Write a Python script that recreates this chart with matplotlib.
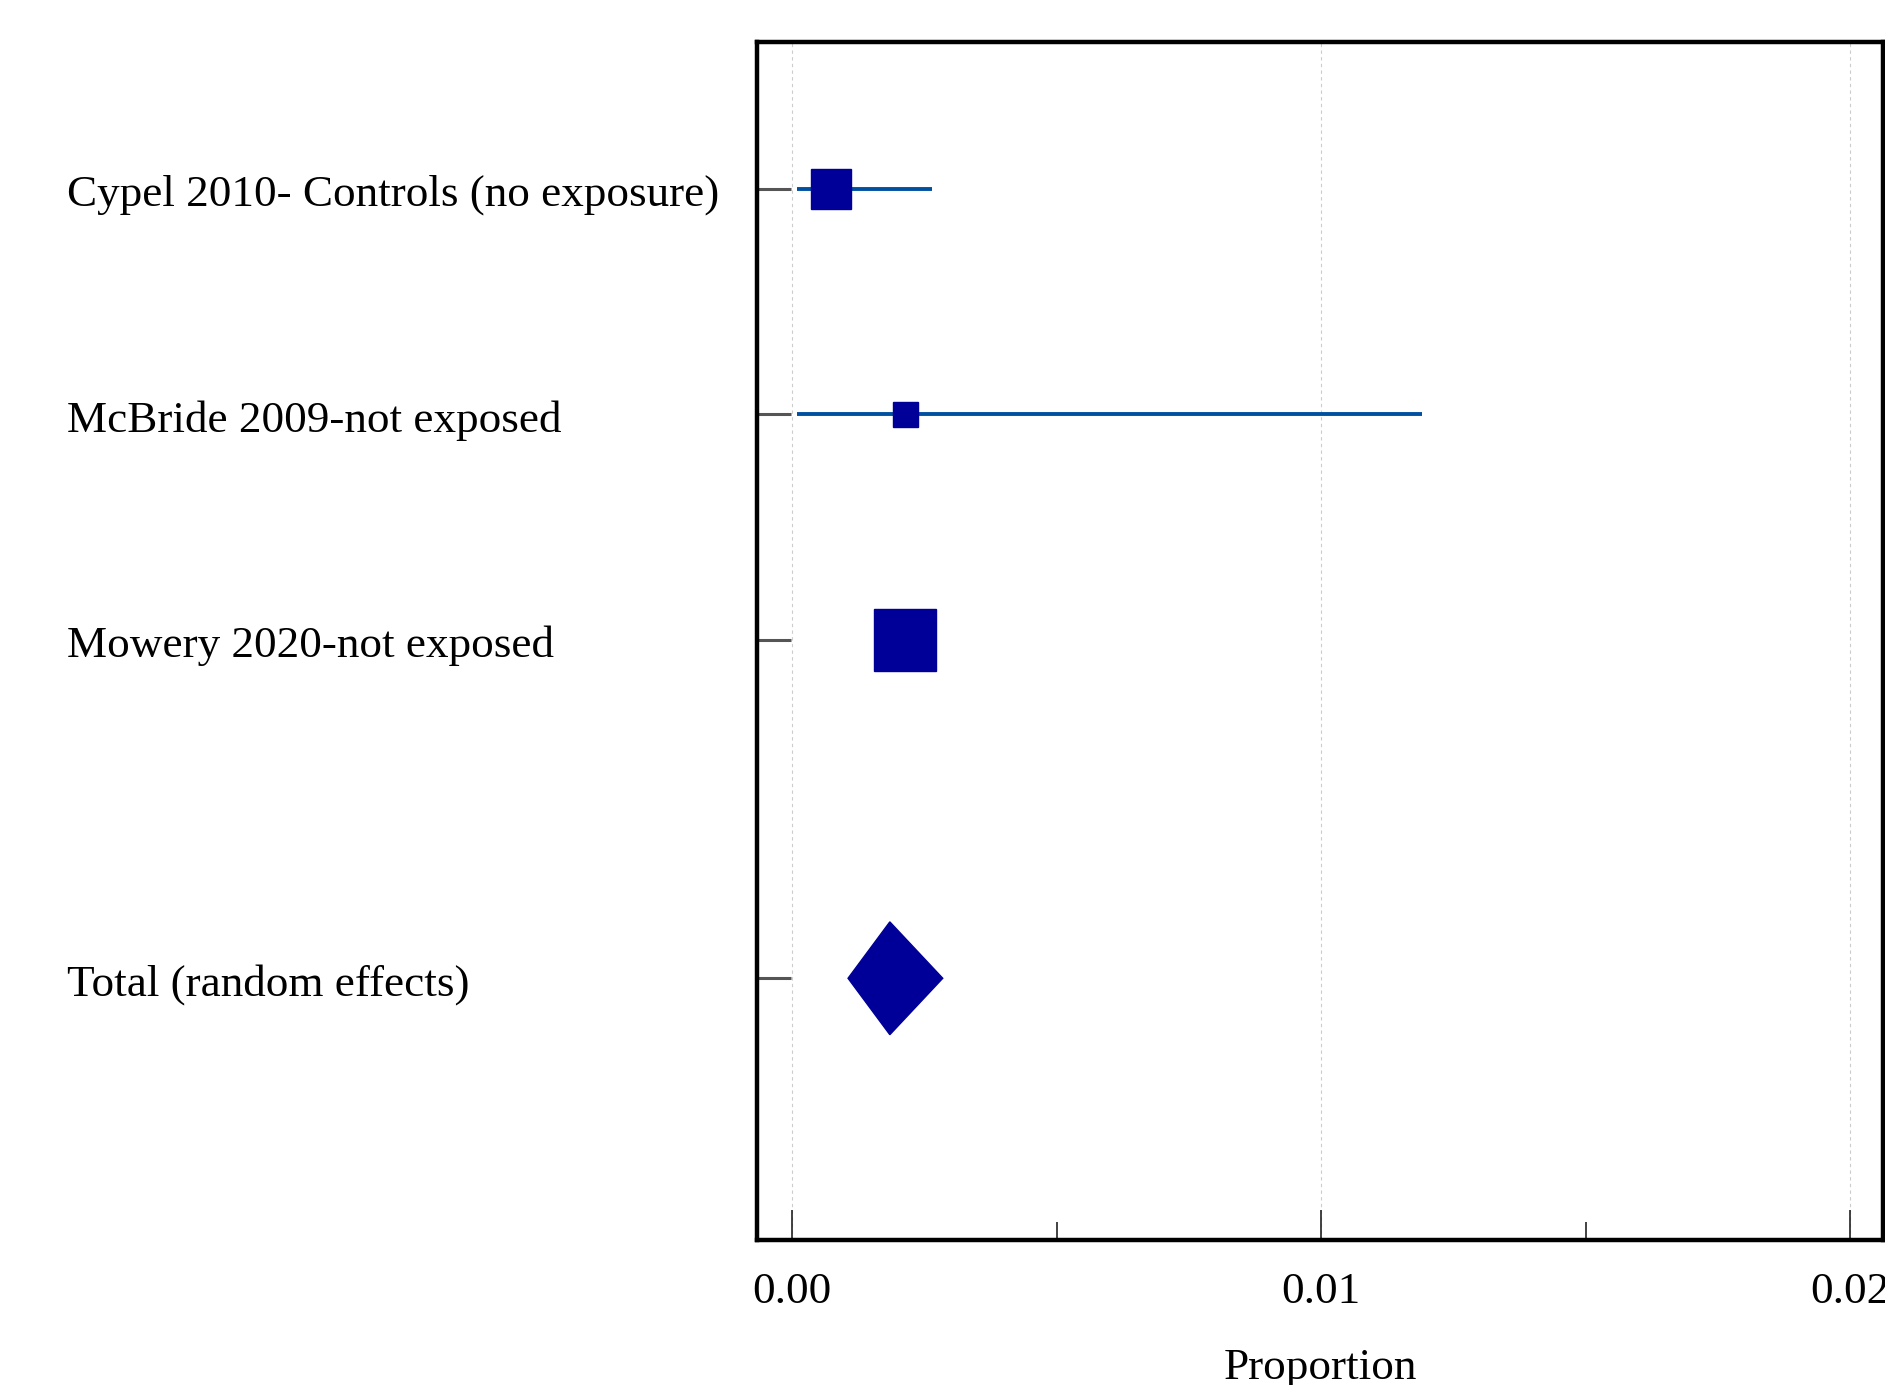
import matplotlib.pyplot as plt
from matplotlib.transforms import blended_transform_factory, offset_copy

plt.rcParams['font.family'] = ['Liberation Serif', 'DejaVu Serif']

# Study data
studies = ['Cypel 2010- Controls (no exposure)',
           'McBride 2009-not exposed',
           'Mowery 2020-not exposed']
est = [0.00073, 0.00214, 0.00213]
ci_low = [0.0001, 0.0001, 0.0016]
ci_high = [0.00265, 0.0119, 0.0027]
weights = [29.5, 18, 45]  # marker size ~ study weight

total_label = 'Total (random effects)'
total_est = 0.00185
total_low = 0.00106
total_high = 0.00285

rows = [0, 1, 2]
total_row = 3.5

navy = '#000099'
ci_color = '#0050a0'

fig = plt.figure(figsize=(18.85, 13.85), dpi=100)
ax = fig.add_axes([0.4016, 0.1047, 0.5974, 0.865])

# confidence intervals and study squares
for y, e, lo, hi, w in zip(rows, est, ci_low, ci_high, weights):
    ax.plot([lo, hi], [y, y], color=ci_color, lw=2.8, solid_capstyle='butt', zorder=2)
    ax.plot(e, y, marker='s', ms=w, color=navy, mec=navy, zorder=3)

# pooled estimate diamond
h = 0.25
ax.fill([total_low, total_est, total_high, total_est],
        [total_row, total_row - h, total_row, total_row + h],
        color=navy, zorder=3)

ax.set_xlim(-0.00066, 0.02062)
ax.set_ylim(4.66, -0.65)

ax.set_xticks([0.0, 0.01, 0.02])
ax.set_xticklabels(['0.00', '0.01', '0.02'])
ax.set_xticks([0.005, 0.015], minor=True)
ax.tick_params(axis='x', which='major', direction='in', length=21.5, width=1.2,
               labelsize=32.5, pad=23, color='#222222')
ax.tick_params(axis='x', which='minor', direction='in', length=13, width=1.2,
               color='#222222')
ax.grid(axis='x', which='major', color='#cccccc', ls=(0, (3, 3)), lw=0.8)

all_rows = rows + [total_row]
ax.set_yticks(all_rows)
ax.set_yticklabels([])
ax.tick_params(axis='y', direction='in', length=24.5, width=2.2, color='#555555')

for s in ax.spines.values():
    s.set_linewidth(3.2)

trans = blended_transform_factory(fig.transFigure, ax.transData)
trans = offset_copy(trans, fig=fig, y=-4.5, units='points')
for y, name in zip(all_rows, studies + [total_label]):
    ax.text(67 / 1885, y, name, transform=trans, ha='left', va='center',
            fontsize=32.5, clip_on=False)

ax.set_xlabel('Proportion', fontsize=32.5, labelpad=26)

fig.savefig('out.png', dpi=100)
